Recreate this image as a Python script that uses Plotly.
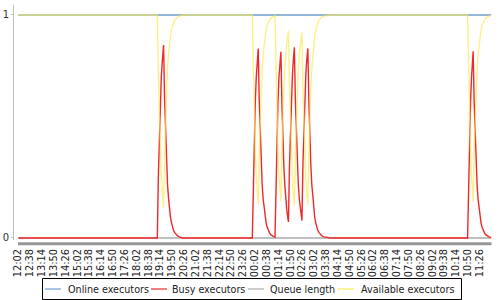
import plotly.graph_objects as go

# ---- data ----
tick_labels = ["12:02", "12:38", "13:14", "13:50", "14:26", "15:02", "15:38", "16:14",
               "16:50", "17:26", "18:02", "18:38", "19:14", "19:50", "20:26", "21:02",
               "21:38", "22:14", "22:50", "23:26", "00:02", "00:38", "01:14", "01:50",
               "02:26", "03:02", "03:38", "04:14", "04:50", "05:26", "06:02", "06:38",
               "07:14", "07:50", "08:26", "09:02", "09:38", "10:14", "10:50", "11:26"]
label_step_minutes = 36

# minutes since 12:02
online_minutes = [0, 1439]
online_executors = [1, 1]

queue_minutes = [0, 1439]
queue_length = [0, 0]

minutes = [0, 423, 426, 429, 432, 435, 438, 442, 445, 448, 451, 454, 457, 460, 463, 466, 469, 472, 476, 480, 485, 492, 500,
           712, 715, 718, 721, 724, 727, 730, 733, 736, 739, 742, 745, 748, 751, 754, 757, 760, 764, 768, 772, 776, 781,
           784, 787, 790, 793, 796, 799, 802, 805, 808, 811, 814, 817, 820, 822,
           825, 828, 831, 834, 837, 840, 843, 846, 849, 852, 855, 858, 861, 863,
           866, 869, 872, 875, 878, 881, 884, 887, 890, 893, 896, 899, 902, 905, 908, 911, 915, 919, 924, 930, 940, 950,
           1367, 1370, 1373, 1376, 1379, 1382, 1384, 1387, 1390, 1393, 1396, 1399, 1402, 1405, 1408, 1411, 1414, 1418, 1422, 1427, 1432, 1439]

busy_executors = [0, 0, 0.27, 0.47, 0.61, 0.72, 0.79, 0.865, 0.63, 0.46, 0.33, 0.24, 0.18, 0.13, 0.094, 0.069, 0.05, 0.036, 0.024, 0.016, 0.009, 0.004, 0,
                  0, 0.27, 0.47, 0.61, 0.72, 0.79, 0.85, 0.62, 0.45, 0.33, 0.24, 0.175, 0.128, 0.093, 0.068, 0.049, 0.036, 0.024, 0.015, 0.01, 0.007, 0.004,
                  0.27, 0.47, 0.61, 0.72, 0.79, 0.835, 0.61, 0.44, 0.32, 0.235, 0.17, 0.125, 0.09, 0.072,
                  0.32, 0.5, 0.63, 0.73, 0.8, 0.855, 0.62, 0.455, 0.33, 0.24, 0.175, 0.128, 0.093, 0.078,
                  0.33, 0.51, 0.64, 0.74, 0.805, 0.85, 0.62, 0.45, 0.33, 0.24, 0.175, 0.128, 0.093, 0.068, 0.049, 0.036, 0.024, 0.015, 0.009, 0.005, 0.0015, 0,
                  0, 0.27, 0.47, 0.61, 0.72, 0.79, 0.837, 0.61, 0.445, 0.325, 0.237, 0.173, 0.126, 0.092, 0.067, 0.049, 0.036, 0.024, 0.015, 0.009, 0.005, 0.0025]

available_executors = [1, 1, 0.73, 0.53, 0.39, 0.28, 0.21, 0.135, 0.37, 0.54, 0.67, 0.76, 0.82, 0.87, 0.906, 0.931, 0.95, 0.964, 0.976, 0.984, 0.991, 0.996, 1,
                       1, 0.73, 0.53, 0.39, 0.28, 0.21, 0.15, 0.38, 0.55, 0.67, 0.76, 0.825, 0.872, 0.907, 0.932, 0.951, 0.964, 0.976, 0.985, 0.99, 0.993, 0.996,
                       0.73, 0.53, 0.39, 0.28, 0.21, 0.165, 0.39, 0.56, 0.68, 0.765, 0.83, 0.875, 0.91, 0.928,
                       0.68, 0.5, 0.37, 0.27, 0.2, 0.145, 0.38, 0.545, 0.67, 0.76, 0.825, 0.872, 0.907, 0.922,
                       0.67, 0.49, 0.36, 0.26, 0.195, 0.15, 0.38, 0.55, 0.67, 0.76, 0.825, 0.872, 0.907, 0.932, 0.951, 0.964, 0.976, 0.985, 0.991, 0.995, 0.9985, 1,
                       1, 0.73, 0.53, 0.39, 0.28, 0.21, 0.163, 0.39, 0.555, 0.675, 0.763, 0.827, 0.874, 0.908, 0.933, 0.951, 0.964, 0.976, 0.985, 0.991, 0.995, 0.9975]

series_names = ["Online executors", "Busy executors", "Queue length", "Available executors"]

# ---- styling ----
BLUE = "rgb(114,159,207)"
RED = "rgb(239,41,41)"
GREY = "rgb(171,171,171)"
YELLOW = "rgba(252,233,79,0.68)"
YELLOW_LEG = "rgb(252,233,79)"
FONT = "DejaVu Sans"

W, H = 500, 300
ML, MR, MT, MB = 14, 8, 5, 60
PW, PH = W - ML - MR, H - MT - MB


def pxx(x):
    return (x - ML) / PW


def pxy(y):
    return (H - MB - y) / PH


fig = go.Figure()
fig.add_trace(go.Scatter(x=queue_minutes, y=queue_length, mode="lines", name=series_names[2],
                         line=dict(color=GREY, width=1.5)))
fig.add_trace(go.Scatter(x=online_minutes, y=online_executors, mode="lines", name=series_names[0],
                         line=dict(color=BLUE, width=1.6)))
fig.add_trace(go.Scatter(x=minutes, y=busy_executors, mode="lines", name=series_names[1],
                         line=dict(color=RED, width=1.4)))
fig.add_trace(go.Scatter(x=minutes, y=available_executors, mode="lines", name=series_names[3],
                         line=dict(color=YELLOW, width=1.4)))

tickvals = [i * label_step_minutes for i in range(len(tick_labels))]

shapes = []
annotations = []
# category axis band
shapes.append(dict(type="line", xref="paper", yref="paper", x0=pxx(18), x1=pxx(491.5),
                   y0=pxy(243.8), y1=pxy(243.8), line=dict(color="rgb(150,150,150)", width=3)))
# legend box
shapes.append(dict(type="rect", xref="paper", yref="paper", x0=pxx(42.5), x1=pxx(461.5),
                   y0=pxy(299.5), y1=pxy(278.5), line=dict(color="black", width=1),
                   fillcolor="white"))
leg_colors = [BLUE, RED, GREY, YELLOW_LEG]
leg_line_x = [45, 151, 248, 338]
leg_text_x = [65.5, 170, 268, 359]
for name, c, lx, tx in zip(series_names, leg_colors, leg_line_x, leg_text_x):
    shapes.append(dict(type="line", xref="paper", yref="paper", x0=pxx(lx), x1=pxx(lx + 16),
                       y0=pxy(289), y1=pxy(289), line=dict(color=c, width=1.2)))
    annotations.append(dict(text=name, xref="paper", yref="paper", x=pxx(tx), y=pxy(289.5),
                            xanchor="left", yanchor="middle", showarrow=False,
                            font=dict(family=FONT, size=9.6, color="#222")))

fig.update_layout(
    width=W, height=H,
    margin=dict(l=ML, r=MR, t=MT, b=MB, pad=0),
    paper_bgcolor="white", plot_bgcolor="white",
    showlegend=False,
    shapes=shapes, annotations=annotations,
    xaxis=dict(range=[-13.1, 1441.3], tickmode="array", tickvals=tickvals, ticktext=tick_labels,
               tickangle=-90, tickfont=dict(family=FONT, size=9.8, color="#222"),
               showgrid=False, zeroline=False, showline=False,
               ticks="outside", ticklen=4, tickcolor="rgba(0,0,0,0)", automargin=False),
    yaxis=dict(range=[-0.009, 1.0448], tickmode="array", tickvals=[0, 1], ticktext=["0", "1"],
               tickfont=dict(family=FONT, size=10, color="#333"),
               showgrid=False, zeroline=False, showline=True, linecolor="rgb(190,190,190)", linewidth=1,
               ticks="outside", ticklen=2, tickcolor="rgb(190,190,190)", automargin=False),
)

fig.write_html("out.html")
